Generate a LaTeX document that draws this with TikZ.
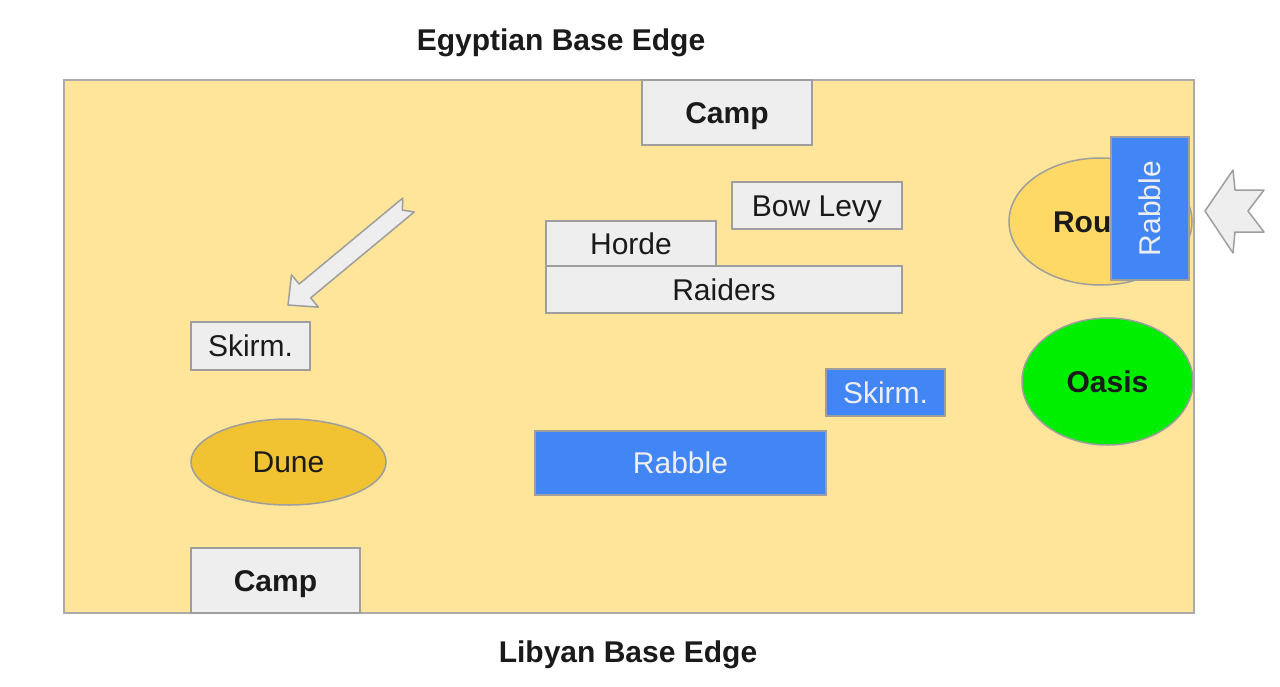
\documentclass[tikz,border=0pt]{standalone}
\usepackage{fontspec}
\setmainfont{Liberation Sans}
\usetikzlibrary{shapes.geometric}
\definecolor{board}{HTML}{FFE599}
\definecolor{boardline}{HTML}{ABABAB}
\definecolor{boxgray}{HTML}{EEEEEE}
\definecolor{boxline}{HTML}{9E9E9E}
\definecolor{dune}{HTML}{F1C232}
\definecolor{rough}{HTML}{FFD966}
\definecolor{unitblue}{HTML}{4285F4}
\definecolor{bluetext}{HTML}{EEEEEE}
\definecolor{oasis}{HTML}{00EE00}
\definecolor{txt}{HTML}{1A1A1A}
\tikzset{
  basefont/.style={font=\fontsize{15}{18}\selectfont, text height=10.7pt, text depth=0pt},
  gbox/.style={rectangle, draw=boxline, fill=boxgray, line width=0.75pt, inner sep=0pt, outer sep=0pt, text=txt, basefont},
  bbox/.style={rectangle, draw=boxline, fill=unitblue, line width=0.75pt, inner sep=0pt, outer sep=0pt, text=bluetext, basefont},
  terrain/.style={ellipse, draw=boxline, line width=0.75pt, inner sep=0pt, outer sep=0pt, text=txt, basefont},
  edgelabel/.style={text=txt, font=\fontsize{15}{18}\selectfont\bfseries, text height=10.7pt, text depth=0pt, inner sep=0pt},
  blockarrow/.style={draw=boxline, fill=boxgray, line width=0.75pt, line join=round}
}
\begin{document}
\begin{tikzpicture}[x=0.5pt,y=-0.5pt]
\useasboundingbox[fill=white] (0,0) rectangle (1280,686);
% board
\node[rectangle, draw=boardline, fill=board, line width=0.75pt, inner sep=0pt, minimum width=565pt, minimum height=266.5pt] (board) at (629,346.5) {};
\node[edgelabel] (egy) at (561,40) {Egyptian Base Edge};
\node[edgelabel] (lib) at (628,652) {Libyan Base Edge};
% terrain
\node[terrain, fill=dune, minimum width=97.5pt, minimum height=43pt] (dune) at (288.5,462) {Dune};
\node[terrain, fill=rough, minimum width=91.5pt, minimum height=63.5pt, font=\fontsize{15}{18}\selectfont\bfseries] (rough) at (1100.5,221.5) {Rough};
\node[terrain, fill=oasis, minimum width=85.5pt, minimum height=63.5pt, font=\fontsize{15}{18}\selectfont\bfseries] (oasis) at (1107.5,381.5) {Oasis};
% units
\node[gbox, minimum width=85pt, minimum height=32.5pt, font=\fontsize{15}{18}\selectfont\bfseries] (camptop) at (727,112.5) {Camp};
\node[gbox, minimum width=85pt, minimum height=23.5pt] (bow) at (817,205.5) {Bow Levy};
\node[gbox, minimum width=85pt, minimum height=23pt] (horde) at (631,244) {Horde};
\node[gbox, minimum width=178pt, minimum height=23.5pt] (raiders) at (724,289.5) {Raiders};
\node[gbox, minimum width=59.5pt, minimum height=24pt] (skirml) at (250.5,346) {Skirm.};
\node[gbox, minimum width=84.5pt, minimum height=32.5pt, font=\fontsize{15}{18}\selectfont\bfseries] (campbot) at (275.5,580.5) {Camp};
\node[bbox, minimum width=145.5pt, minimum height=32pt] (rabble) at (680.5,463) {Rabble};
\node[bbox, minimum width=59.5pt, minimum height=23.5pt] (skirmb) at (885.5,392.5) {Skirm.};
\node[bbox, rotate=90, minimum width=71.5pt, minimum height=39pt] (rabblev) at (1150,208.5) {Rabble};
% movement arrows
\draw[blockarrow] (402.75,198.07) -- (299.17,284.03) -- (291.51,274.80) -- (288,305) -- (318.33,307.12) -- (310.67,297.89) -- (414.25,211.93) -- (402.34,210.11) -- cycle;
\draw[blockarrow] (1205,211) -- (1233,170) -- (1235,190) -- (1264,190) -- (1248,211) -- (1264,232) -- (1235,232) -- (1233,253) -- cycle;
\end{tikzpicture}
\end{document}
